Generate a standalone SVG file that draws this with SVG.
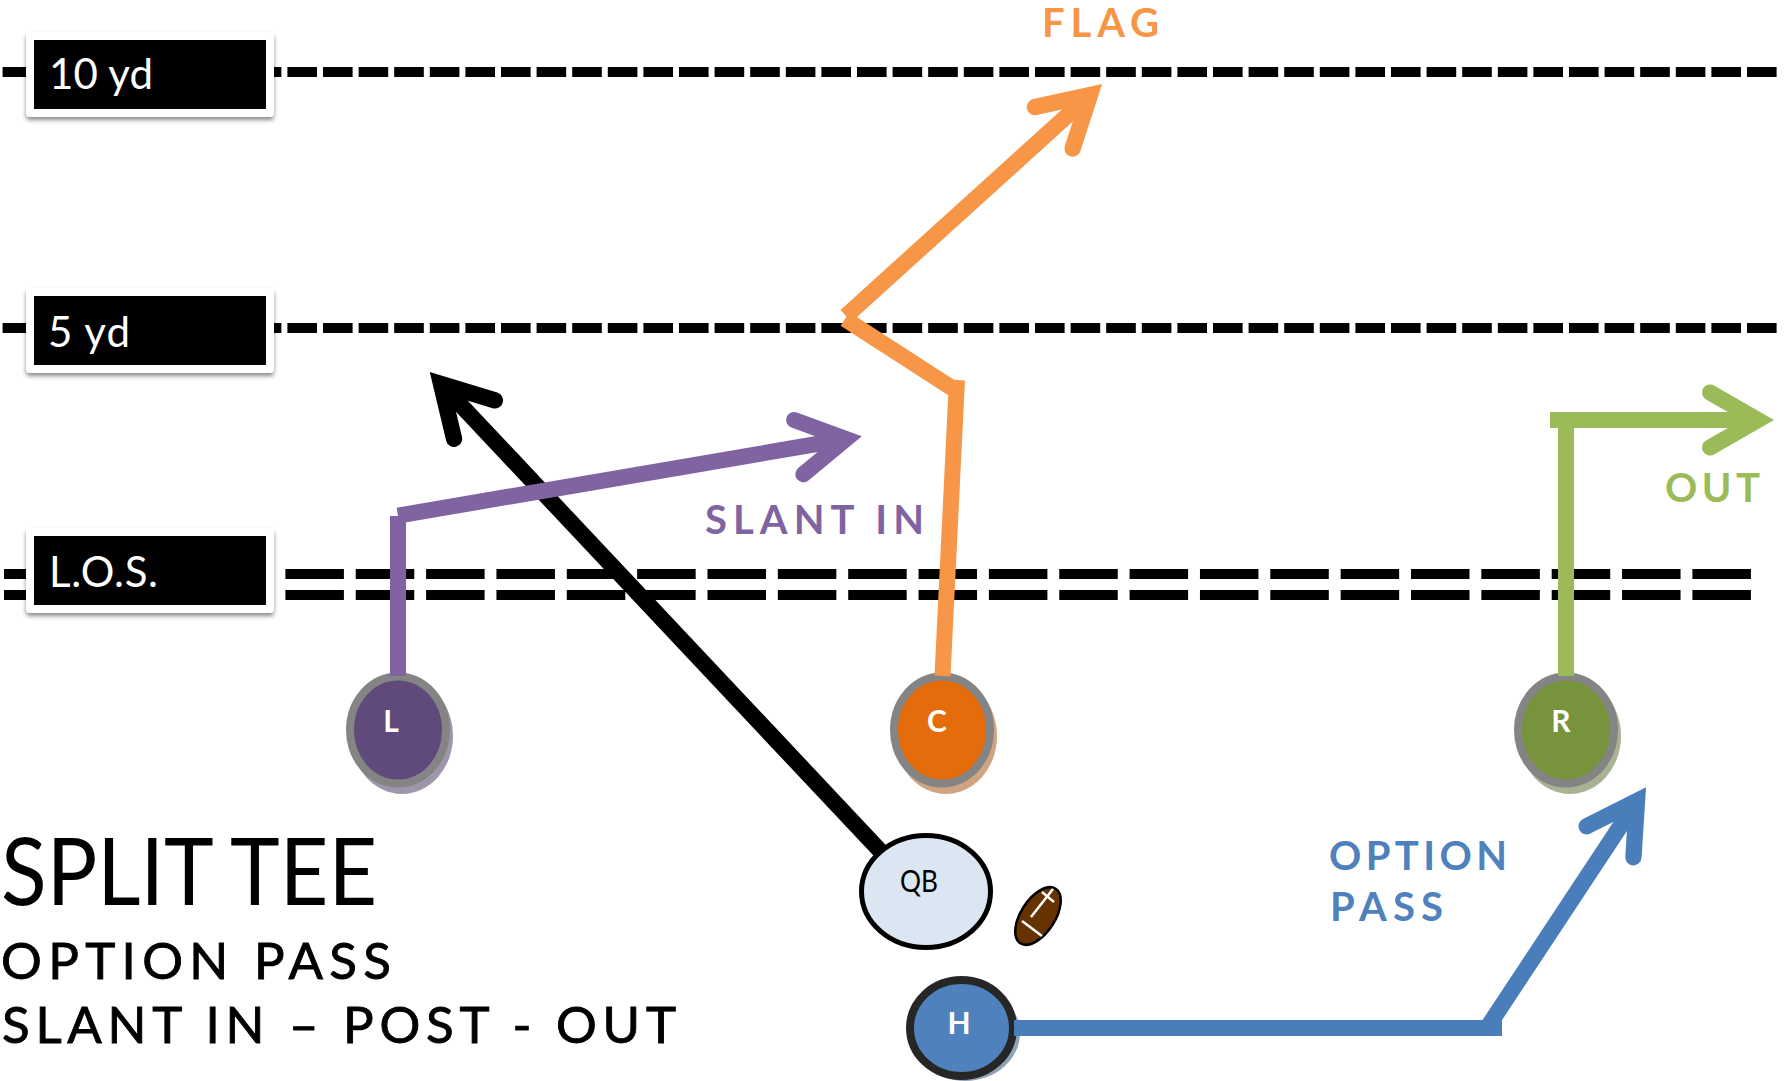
<svg xmlns="http://www.w3.org/2000/svg" width="1787" height="1081" viewBox="0 0 1787 1081">
<style>
text{font-family:Lato,"Liberation Sans",sans-serif}
.yard{fill:none;stroke:#000;stroke-width:10;stroke-dasharray:29.6 6}
.los{fill:none;stroke:#000;stroke-width:10;stroke-dasharray:58.5 11.85}
.box{fill:#000;stroke:#fff;stroke-width:8;stroke-linejoin:round;filter:url(#ds)}
.boxt{fill:#fff;font-size:42px}
.pos{stroke:#848484;stroke-width:8}
.nt{fill:#fff;font-size:30px;font-weight:700;text-anchor:middle}
.rt{fill:none;stroke-width:16;stroke-linejoin:miter;stroke-miterlimit:10}
.dg{stroke-width:16.3}
.lab{font-size:40px;font-weight:700}
.sub{font-size:51px;fill:#000;stroke:#000;stroke-width:.9}
.head{fill:none;stroke-width:1;stroke-linecap:round;stroke-linejoin:miter;stroke-miterlimit:10}
</style>
<defs>
<filter id="ds" x="-10%" y="-20%" width="120%" height="150%"><feDropShadow dx="0" dy="3" stdDeviation="2" flood-color="#000" flood-opacity="0.45"/></filter>
<marker id="mO" markerUnits="strokeWidth" orient="auto" overflow="visible" markerWidth="6" markerHeight="6" refX="0" refY="0"><path class="head" stroke="#F79646" d="M-3-1.72L0 0L-3 1.72"/></marker>
<marker id="mP" markerUnits="strokeWidth" orient="auto" overflow="visible" markerWidth="6" markerHeight="6" refX="0" refY="0"><path class="head" stroke="#8064A2" d="M-3-1.72L0 0L-3 1.72"/></marker>
<marker id="mG" markerUnits="strokeWidth" orient="auto" overflow="visible" markerWidth="6" markerHeight="6" refX="0" refY="0"><path class="head" stroke="#9BBB59" d="M-3-1.72L0 0L-3 1.72"/></marker>
<marker id="mB" markerUnits="strokeWidth" orient="auto" overflow="visible" markerWidth="6" markerHeight="6" refX="0" refY="0"><path class="head" stroke="#4A7EBB" d="M-3-1.72L0 0L-3 1.72"/></marker>
<marker id="mK" markerUnits="strokeWidth" orient="auto" overflow="visible" markerWidth="6" markerHeight="6" refX="0" refY="0"><path class="head" stroke="#000" d="M-3-1.72L0 0L-3 1.72"/></marker>
</defs>
<rect width="1787" height="1081" fill="#fff"/>
<g id="yard-lines">
<line class="yard" x1="2.6" y1="72" x2="1778" y2="72"/>
<line class="yard" x1="2.6" y1="328" x2="1778" y2="328"/>
<line class="los" x1="4" y1="574" x2="1751" y2="574"/>
<line class="los" x1="4" y1="595" x2="1751" y2="595"/>
</g>
<g id="label-10yd"><rect class="box" x="30" y="36" width="240" height="77"/><text class="boxt" x="49" y="89" textLength="104">10 yd</text></g>
<g id="label-5yd"><rect class="box" x="30" y="292" width="240" height="77"/><text class="boxt" x="48" y="347" textLength="82">5 yd</text></g>
<g id="label-los"><rect class="box" x="30" y="532" width="240" height="77"/><text class="boxt" x="49" y="587" textLength="109">L.O.S.</text></g>
<g id="node-L"><ellipse cx="402" cy="736" rx="51" ry="58" fill="#a096ac"/><ellipse class="pos" cx="398" cy="730" rx="48" ry="53.5" fill="#604A7B"/><text class="nt" x="391" y="732">L</text></g>
<g id="node-C"><ellipse cx="946" cy="736" rx="51" ry="58" fill="#d0a482"/><ellipse class="pos" cx="942" cy="730" rx="48" ry="53.5" fill="#E46C0A"/><text class="nt" x="937" y="732">C</text></g>
<g id="node-R"><ellipse cx="1570" cy="736" rx="51" ry="58" fill="#a8b394"/><ellipse class="pos" cx="1566" cy="730" rx="48" ry="53.5" fill="#77933C"/><text class="nt" x="1561" y="732">R</text></g>
<g id="node-H"><ellipse cx="965" cy="1033" rx="55" ry="48" fill="#8fa2b8"/><ellipse cx="961.5" cy="1028" rx="51.5" ry="48" fill="#4F81BD" stroke="#262626" stroke-width="8"/><text class="nt" x="959" y="1034">H</text></g>
<g id="connectors">
<line class="rt dg" stroke="#000" x1="885" y1="856" x2="441" y2="384" marker-end="url(#mK)"/>
<line class="rt" stroke="#8064A2" x1="398" y1="676" x2="398" y2="516"/>
<line class="rt" stroke="#8064A2" x1="398" y1="515.6" x2="846" y2="439" marker-end="url(#mP)"/>
<line class="rt" stroke="#F79646" x1="942.5" y1="676" x2="957" y2="380"/>
<line class="rt dg" stroke="#F79646" x1="955" y1="390" x2="845" y2="319"/>
<line class="rt dg" stroke="#F79646" x1="846" y1="316" x2="1090" y2="95" marker-end="url(#mO)"/>
<line class="rt" stroke="#9BBB59" x1="1566" y1="676" x2="1566" y2="420"/>
<line class="rt" stroke="#9BBB59" x1="1550" y1="420" x2="1758" y2="420" marker-end="url(#mG)"/>
<line class="rt" stroke="#4A7EBB" x1="1014" y1="1028" x2="1502" y2="1028"/>
<line class="rt dg" stroke="#4A7EBB" x1="1487" y1="1028" x2="1637" y2="801" marker-end="url(#mB)"/>
</g>
<g id="node-QB"><ellipse cx="926" cy="891.5" rx="64.5" ry="56" fill="#DCE6F2" stroke="#000" stroke-width="5"/><text x="900" y="892" font-size="30" fill="#000" textLength="38" lengthAdjust="spacingAndGlyphs">QB</text></g>
<g id="football"><ellipse cx="1038" cy="916" rx="32.5" ry="17" transform="rotate(-57 1038 916)" fill="#663300" stroke="#000" stroke-width="2.5"/>
<g stroke="#fff" stroke-width="2.5" fill="none"><line x1="1031" y1="917" x2="1053" y2="889"/><line x1="1042" y1="892" x2="1054" y2="902"/><line x1="1022" y1="921" x2="1042" y2="936"/></g></g>
<g id="labels">
<text class="lab" fill="#F79646" x="1042" y="37" textLength="117">FLAG</text>
<text class="lab" fill="#8064A2" x="705" y="534" textLength="219">SLANT IN</text>
<text class="lab" fill="#9BBB59" x="1665" y="502" textLength="95">OUT</text>
<text class="lab" fill="#4F81BD" x="1329" y="870" textLength="178">OPTION</text>
<text class="lab" fill="#4F81BD" x="1330" y="921" textLength="113">PASS</text>
<text x="1" y="905" font-size="94" fill="#000" textLength="376" lengthAdjust="spacingAndGlyphs">SPLIT TEE</text>
<text class="sub" x="1" y="979" textLength="390">OPTION PASS</text>
<text class="sub" x="2" y="1043" textLength="674">SLANT IN – POST - OUT</text>
</g>
</svg>
